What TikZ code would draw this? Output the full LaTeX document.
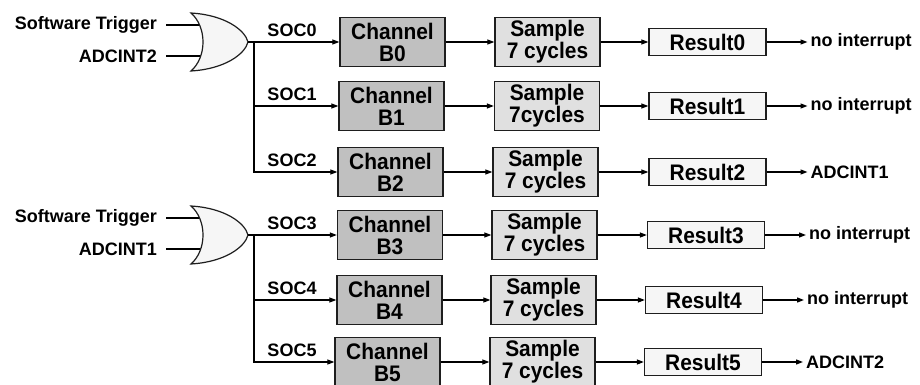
\documentclass[tikz,border=0pt]{standalone}
\usepackage{fontspec}
\setmainfont{Liberation Sans}
\newfontfamily\boxfont[FakeStretch=0.93]{Liberation Sans}
\usetikzlibrary{arrows.meta}
\definecolor{chanfill}{RGB}{192,192,192}
\definecolor{samplefill}{RGB}{224,224,224}
\definecolor{resultfill}{RGB}{246,246,246}
\definecolor{edgegray}{RGB}{30,30,30}

\begin{document}
\begin{tikzpicture}[x=1pt, y=-1pt,
    lbl/.style={font=\fontsize{18}{20}\selectfont\bfseries, inner sep=0pt},
    box/.style={draw=edgegray, line width=1.3pt, align=center, inner sep=0pt,
        font=\boxfont\fontsize{22.5}{22}\selectfont\bfseries},
    chanbox/.style={box, fill=chanfill, minimum width=105pt, minimum height=49pt},
    samplebox/.style={box, fill=samplefill, minimum width=105pt, minimum height=49pt},
    resultbox/.style={box, fill=resultfill, minimum width=117pt, minimum height=27pt},
    wire/.style={line width=1.2pt},
    flow/.style={wire, -{Triangle[length=7pt,width=5pt]}}]
\useasboundingbox (0,0) rectangle (920,385);

% conversion rows
\foreach \i/\y/\cx/\sx/\rx/\intr/\cyc in {
    0/42/392.5/547.5/707.5/no interrupt/7 cycles,
    1/106/391.5/547/707.5/no interrupt/7cycles,
    2/172/390.5/545.5/707.5/ADCINT1/7 cycles,
    3/235/390/544.5/706/no interrupt/7 cycles,
    4/300/389.5/543.5/704/no interrupt/7 cycles,
    5/362/387.5/542.5/703/ADCINT2/7 cycles}{
    \node[chanbox] (chan\i) at (\cx,\y) {Channel\\B\i};
    \node[samplebox] (samp\i) at (\sx,\y) {Sample\\\cyc};
    \node[resultbox] (res\i) at (\rx,\y) {Result\i};
    \node[lbl, anchor=west] (irq\i) at (\rx+103,\y) {\intr};
    \node[lbl] (soc\i) at (292,\y-12) {SOC\i};
    \draw[flow] (chan\i) -- (samp\i);
    \draw[flow] (samp\i) -- (res\i);
    \draw[flow] (res\i.east) -- ([xshift=-3pt]irq\i.west);
}

% OR gates and trigger buses
\foreach \g/\gy/\j/\k/\src in {A/42/0/2/ADCINT2, B/235/3/5/ADCINT1}{
  \begin{scope}[shift={(0,\gy)}]
    \node[lbl, anchor=east] (sw\g) at (157,-17) {Software Trigger};
    \node[lbl, anchor=east] (adc\g) at (157,14) {\src};
    \coordinate (in\g1) at (203,-17);
    \coordinate (in\g2) at (203,14);
    \draw[wire] ([xshift=9pt]sw\g.east) -- (in\g1);
    \draw[wire] ([xshift=9pt]adc\g.east) -- (in\g2);
    \draw[wire, draw=edgegray, fill=resultfill] (191,-29)
        .. controls (225,-27) and (245,-12) .. (248,0)
        .. controls (245,12) and (225,27) .. (191,29)
        .. controls (207,15) and (207,-15) .. cycle;
    \coordinate (gate\g) at (248,0);
    \coordinate (bus\g) at (254,0);
  \end{scope}
  \draw[wire] (gate\g) -- (bus\g);
  \foreach \r in {\j,...,\k}{
    \draw[flow] (bus\g) |- (chan\r.west);
  }
}
\end{tikzpicture}
\end{document}
